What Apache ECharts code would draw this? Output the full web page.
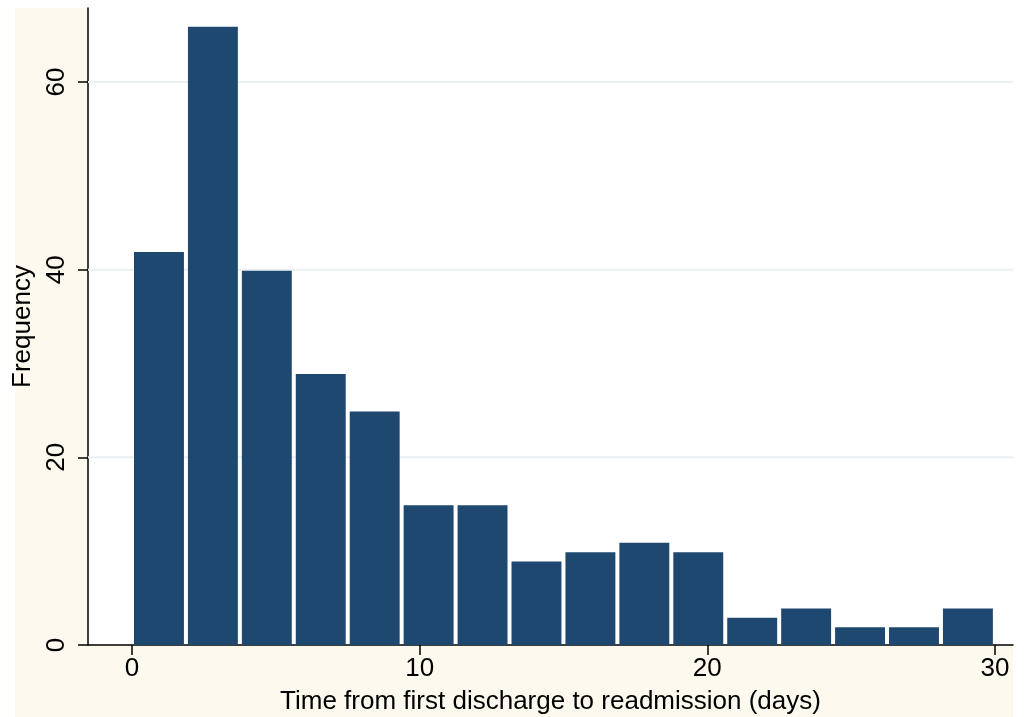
<!DOCTYPE html>
<html>
<head>
<meta charset="utf-8">
<script src="https://cdn.jsdelivr.net/npm/echarts@6/dist/echarts.min.js"></script>
<style>html,body{margin:0;padding:0;background:#fff;}#c{width:1027px;height:717px;}</style>
</head>
<body>
<div id="c"></div>
<script>
const binStarts = [0, 1.875, 3.75, 5.625, 7.5, 9.375, 11.25, 13.125, 15, 16.875, 18.75, 20.625, 22.5, 24.375, 26.25, 28.125];
const binEnds = [1.875, 3.75, 5.625, 7.5, 9.375, 11.25, 13.125, 15, 16.875, 18.75, 20.625, 22.5, 24.375, 26.25, 28.125, 30];
const frequencies = [42, 66, 40, 29, 25, 15, 15, 9, 10, 11, 10, 3, 4, 2, 2, 4];
const xTicks = [0, 10, 20, 30];
const yTicks = [0, 20, 40, 60];

const data = binStarts.map((s, i) => [s, binEnds[i], frequencies[i]]);
const FONT = 'Liberation Sans, Arial, sans-serif';
const chart = echarts.init(document.getElementById('c'), null, {renderer: 'canvas'});
chart.setOption({
  backgroundColor: '#ffffff',
  animation: false,
  graphic: [{
    type: 'rect', z: -10, silent: true,
    shape: {x: 15, y: 8, width: 998, height: 709},
    style: {fill: '#fdf9ee'}
  }],
  grid: {left: 88, right: 14, top: 8, bottom: 72, show: true, backgroundColor: '#ffffff', borderWidth: 0,
    containLabel: false, outerBoundsMode: 'none'},
  xAxis: {
    type: 'value', min: -1.53, max: 30.63,
    name: 'Time from first discharge to readmission (days)',
    nameLocation: 'middle', nameGap: 44,
    nameTextStyle: {fontFamily: FONT, fontSize: 26, color: '#000'},
    axisLine: {show: true, onZero: false, lineStyle: {color: '#000', width: 1.5}},
    axisTick: {show: true, customValues: xTicks, length: 10, lineStyle: {color: '#000', width: 1.5}},
    axisLabel: {customValues: xTicks, fontFamily: FONT, fontSize: 26, color: '#000', margin: 11},
    splitLine: {show: false}
  },
  yAxis: {
    type: 'value', min: 0, max: 67.9,
    name: 'Frequency',
    nameLocation: 'middle', nameGap: 45,
    nameTextStyle: {fontFamily: FONT, fontSize: 26, color: '#000'},
    axisLine: {show: true, onZero: false, lineStyle: {color: '#000', width: 1.5}},
    axisTick: {show: true, customValues: yTicks, length: 10, lineStyle: {color: '#000', width: 1.5}},
    axisLabel: {customValues: yTicks, rotate: 90, fontFamily: FONT, fontSize: 26, color: '#000', margin: 18},
    splitLine: {show: false}
  },
  series: [
    {
      type: 'custom',
      silent: true,
      z: 1,
      data: yTicks.filter(v => v > 0).map(v => [v]),
      renderItem: function (params, api) {
        const p1 = api.coord([-1.53, api.value(0)]);
        const p2 = api.coord([30.63, api.value(0)]);
        return {type: 'line', shape: {x1: p1[0], y1: p1[1], x2: p2[0], y2: p2[1]},
          style: {stroke: '#e9f0f2', lineWidth: 2}};
      }
    },
    {
      type: 'custom',
      z: 2,
      data: data,
      encode: {x: [0, 1], y: 2},
      renderItem: function (params, api) {
        const a = api.coord([api.value(0), api.value(2)]);
        const b = api.coord([api.value(1), 0]);
        const inset = 2;
        return {
          type: 'rect',
          shape: {x: a[0] + inset, y: a[1] + 1, width: b[0] - a[0] - 2 * inset, height: b[1] - a[1] - 1},
          style: {fill: '#1f4870'}
        };
      }
    }
  ]
});
</script>
</body>
</html>
